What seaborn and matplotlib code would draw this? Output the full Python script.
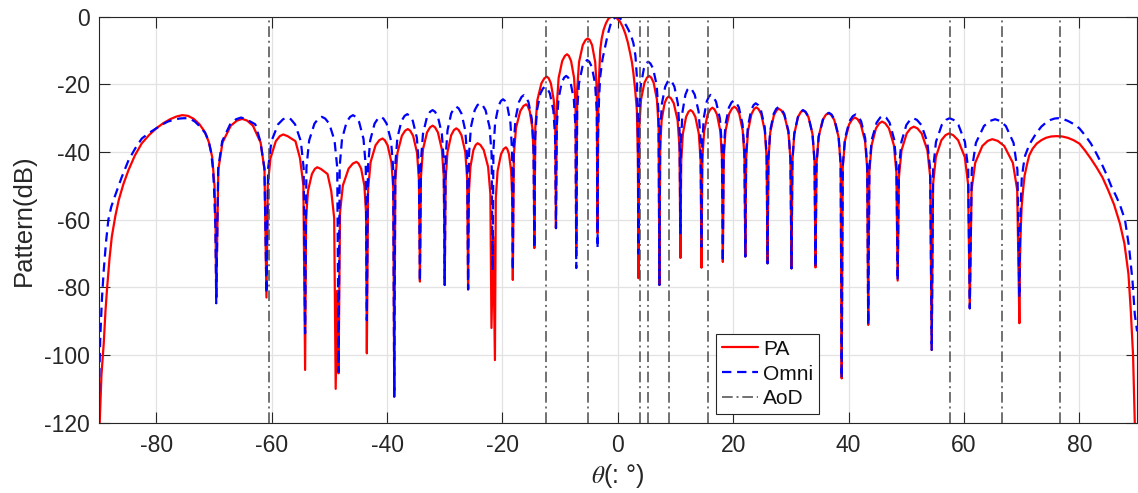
import matplotlib
matplotlib.use("Agg")
import matplotlib.pyplot as plt
import pandas as pd
import seaborn as sns

# ---- data (theta in degrees, pattern in dB) ----
PA_POINTS = [
    (-89.8, -120.0), (-89.5, -106.0), (-89.1, -96.5), (-88.8, -87.0), (-88.5, -79.8), (-88.1, -71.5),
    (-87.7, -65.0), (-87.1, -59.0), (-86.5, -54.2), (-85.7, -49.5), (-84.8, -45.3), (-83.7, -41.0),
    (-82.5, -37.4), (-81.2, -34.9), (-80.0, -33.0), (-78.8, -31.5), (-77.6, -30.3), (-76.5, -29.5),
    (-75.5, -29.1), (-74.5, -29.3), (-73.5, -30.2), (-72.5, -31.8), (-71.6, -34.0), (-70.9, -37.0),
    (-70.3, -41.5), (-69.9, -50.0), (-69.72, -62.0),
    (-69.6, -83.0),
    (-69.24, -45.2), (-68.52, -37.2), (-67.08, -32.2), (-66.0, -30.7), (-65.1, -30.2), (-64.26, -30.7),
    (-63.25, -32.2), (-61.91, -37.2), (-61.24, -45.2),
    (-60.9, -83.0),
    (-60.67, -49.8), (-60.2, -41.8), (-59.28, -36.8), (-58.58, -35.3), (-58.0, -34.8), (-57.24, -35.3),
    (-55.87, -36.8), (-55.09, -41.8), (-54.5, -49.8),
    (-54.2, -104.4),
    (-54.03, -59.5), (-53.7, -51.5), (-53.02, -46.5), (-52.52, -45.0), (-52.1, -44.5), (-51.46, -45.0),
    (-50.31, -46.5), (-49.67, -51.5), (-49.16, -59.5),
    (-48.9, -110.0), (-48.65, -81.0), (-48.4, -105.4),
    (-48.15, -57.9), (-47.66, -49.9), (-46.66, -44.9), (-45.92, -43.4), (-45.3, -42.9), (-44.94, -43.4),
    (-44.49, -44.9), (-43.93, -49.9), (-43.64, -57.9),
    (-43.5, -99.5),
    (-43.28, -51.0), (-42.85, -43.0), (-41.99, -38.0), (-41.34, -36.5), (-40.8, -36.0), (-40.39, -36.5),
    (-39.9, -38.0), (-39.24, -43.0), (-38.91, -51.0),
    (-38.75, -112.3),
    (-38.56, -48.2), (-38.19, -40.2), (-37.43, -35.2), (-36.87, -33.7), (-36.4, -33.2), (-35.98, -33.7),
    (-35.48, -35.2), (-34.8, -40.2), (-34.47, -48.2),
    (-34.3, -78.3),
    (-34.12, -47.2), (-33.77, -39.2), (-33.07, -34.2), (-32.54, -32.7), (-32.1, -32.2), (-31.68, -32.7),
    (-31.18, -34.2), (-30.5, -39.2), (-30.17, -47.2),
    (-30.0, -79.3),
    (-29.84, -48.0), (-29.52, -40.0), (-28.88, -35.0), (-28.4, -33.5), (-28.0, -33.0), (-27.59, -33.5),
    (-27.1, -35.0), (-26.44, -40.0), (-26.11, -48.0),
    (-25.95, -80.6),
    (-25.82, -52.4), (-25.55, -44.4), (-25.03, -39.4), (-24.63, -37.9), (-24.3, -37.4), (-23.82, -37.9),
    (-23.24, -39.4), (-22.48, -44.4), (-22.09, -52.4),
    (-21.9, -92.0), (-21.6, -65.0), (-21.3, -101.5),
    (-21.15, -53.6), (-20.84, -45.6), (-20.24, -40.6), (-19.78, -39.1), (-19.4, -38.6), (-19.16, -39.1),
    (-18.87, -40.6), (-18.49, -45.6), (-18.3, -53.6),
    (-18.2, -77.8),
    (-18.02, -40.9), (-17.65, -32.9), (-16.91, -27.9), (-16.36, -26.4), (-15.9, -25.9), (-15.61, -26.4),
    (-15.27, -27.9), (-14.81, -32.9), (-14.58, -40.9),
    (-14.47, -68.4),
    (-14.3, -32.7), (-13.95, -24.7), (-13.25, -19.7), (-12.73, -18.2), (-12.3, -17.7), (-11.98, -18.2),
    (-11.6, -19.7), (-11.1, -24.7), (-10.85, -32.7),
    (-10.72, -62.5),
    (-10.57, -26.1), (-10.26, -18.1), (-9.64, -13.1), (-9.18, -11.6), (-8.8, -11.1), (-8.48, -11.6),
    (-8.1, -13.1), (-7.58, -18.1), (-7.33, -26.1),
    (-7.2, -68.4),
    (-7.04, -21.4), (-6.72, -13.4), (-6.08, -8.4), (-5.6, -6.9), (-5.2, -6.4), (-4.86, -6.9),
    (-4.46, -8.4), (-3.92, -13.4), (-3.65, -21.4),
    (-3.51, -64.0),
    (-3.42, -30.0), (-3.3, -20.0), (-3.05, -9.8), (-2.8, -6.5), (-2.47, -3.9), (-2.05, -1.9), (-1.6, -0.5),
    (-1.15, -0.05), (-0.74, 0.0), (-0.2, -0.4), (0.4, -1.5), (0.85, -3.0), (1.28, -4.9), (1.72, -7.5),
    (2.14, -10.8), (2.45, -13.5), (2.7, -16.7), (3.0, -21.5), (3.3, -27.6), (3.48, -42.0),
    (3.58, -77.3),
    (3.73, -32.5), (4.02, -24.5), (4.62, -19.5), (5.06, -18.0), (5.43, -17.5), (5.79, -18.0),
    (6.21, -19.5), (6.78, -24.5), (7.07, -32.5),
    (7.21, -79.3),
    (7.34, -38.6), (7.59, -30.6), (8.1, -25.6), (8.48, -24.1), (8.8, -23.6), (9.21, -24.1),
    (9.7, -25.6), (10.36, -30.6), (10.69, -38.6),
    (10.85, -71.3),
    (10.99, -42.6), (11.27, -34.6), (11.83, -29.6), (12.25, -28.1), (12.6, -27.6), (12.98, -28.1),
    (13.44, -29.6), (14.04, -34.6), (14.35, -42.6),
    (14.5, -74.2),
    (14.65, -41.9), (14.96, -33.9), (15.56, -28.9), (16.02, -27.4), (16.4, -26.9), (16.76, -27.4),
    (17.19, -28.9), (17.77, -33.9), (18.06, -41.9),
    (18.2, -72.5),
    (18.36, -41.6), (18.68, -33.6), (19.32, -28.6), (19.8, -27.1), (20.2, -26.6), (20.58, -27.1),
    (21.04, -28.6), (21.64, -33.6), (21.95, -41.6),
    (22.1, -70.9),
    (22.25, -41.8), (22.56, -33.8), (23.16, -28.8), (23.62, -27.3), (24.0, -26.8), (24.39, -27.3),
    (24.86, -28.8), (25.48, -33.8), (25.79, -41.8),
    (25.95, -72.9),
    (26.11, -42.2), (26.42, -34.2), (27.04, -29.2), (27.51, -27.7), (27.9, -27.2), (28.34, -27.7),
    (28.87, -29.2), (29.57, -34.2), (29.92, -42.2),
    (30.1, -74.4),
    (30.26, -42.7), (30.58, -34.7), (31.22, -29.7), (31.7, -28.2), (32.1, -27.7), (32.53, -28.2),
    (33.05, -29.7), (33.74, -34.7), (34.09, -42.7),
    (34.26, -74.1),
    (34.44, -43.5), (34.8, -35.5), (35.51, -30.5), (36.05, -29.0), (36.5, -28.5), (36.96, -29.0),
    (37.51, -30.5), (38.25, -35.5), (38.62, -43.5),
    (38.8, -106.9),
    (38.98, -44.8), (39.35, -36.8), (40.09, -31.8), (40.64, -30.3), (41.1, -29.8), (41.56, -30.3),
    (42.11, -31.8), (42.85, -36.8), (43.22, -44.8),
    (43.4, -91.1),
    (43.59, -46.0), (43.98, -38.0), (44.74, -33.0), (45.32, -31.5), (45.8, -31.0), (46.34, -31.5),
    (46.99, -33.0), (47.85, -38.0), (48.28, -46.0),
    (48.5, -78.0),
    (48.72, -47.5), (49.17, -39.5), (50.07, -34.5), (50.74, -33.0), (51.3, -32.5), (51.92, -33.0),
    (52.66, -34.5), (53.66, -39.5), (54.15, -47.5),
    (54.4, -98.5),
    (54.64, -49.5), (55.12, -41.5), (56.08, -36.5), (56.8, -35.0), (57.4, -34.5), (58.12, -35.0),
    (58.98, -36.5), (60.14, -41.5), (60.71, -49.5),
    (61.0, -86.2),
    (61.31, -51.2), (61.94, -43.2), (63.18, -38.2), (64.12, -36.7), (64.9, -36.2), (65.84, -36.7),
    (66.97, -38.2), (68.47, -43.2), (69.22, -51.2),
    (69.6, -90.6),
    (69.7, -72.0), (69.85, -62.0), (70.0, -56.0), (70.25, -51.0), (70.5, -47.0), (70.9, -43.8),
    (71.3, -41.0), (71.9, -39.0), (72.6, -37.5), (73.4, -36.5), (74.2, -35.8), (75.1, -35.4),
    (76.0, -35.3), (77.0, -35.4), (78.0, -35.8), (79.0, -36.5), (80.0, -37.5), (81.0, -39.6),
    (82.0, -42.0), (83.0, -44.6), (84.0, -47.5), (85.0, -51.3), (86.0, -55.5), (87.0, -61.0),
    (87.8, -67.0), (88.5, -76.0), (88.9, -86.7), (89.3, -100.0), (89.6, -120.0),
]

OMNI_POINTS = [
    (-90.0, -120.0), (-89.85, -105.0), (-89.7, -94.6), (-89.4, -83.0), (-89.1, -74.9), (-88.7, -66.5),
    (-88.3, -60.0), (-87.8, -56.2), (-87.2, -53.2), (-86.0, -47.5), (-84.8, -42.4), (-83.6, -38.8),
    (-82.5, -36.0), (-81.2, -34.3), (-80.0, -33.0), (-79.0, -31.9), (-78.0, -31.0), (-77.0, -30.5),
    (-76.0, -30.1), (-75.2, -30.0), (-74.5, -30.0), (-73.9, -30.4), (-73.3, -31.0), (-72.4, -32.5),
    (-71.5, -34.4), (-70.9, -36.8), (-70.5, -40.0), (-70.2, -44.5), (-70.0, -50.0), (-69.75, -62.0),
    (-69.6, -84.7),
    (-69.26, -44.8), (-68.57, -36.8), (-67.19, -31.8), (-66.16, -30.3), (-65.3, -29.8), (-64.42, -30.3),
    (-62.84, -31.8), (-61.96, -36.8), (-61.25, -44.8),
    (-60.9, -81.8),
    (-60.61, -44.8), (-60.04, -36.8), (-58.88, -31.8), (-58.02, -30.3), (-57.3, -29.8), (-56.68, -30.3),
    (-55.94, -31.8), (-54.94, -36.8), (-54.45, -44.8),
    (-54.2, -93.6),
    (-53.97, -44.6), (-53.5, -36.6), (-52.58, -31.6), (-51.88, -30.1), (-51.3, -29.6), (-50.72, -30.1),
    (-50.02, -31.6), (-49.1, -36.6), (-48.63, -44.6),
    (-48.4, -105.0),
    (-48.2, -44.1), (-47.8, -36.1), (-47.0, -31.1), (-46.4, -29.6), (-45.9, -29.1), (-45.42, -29.6),
    (-44.84, -31.1), (-44.08, -36.1), (-43.69, -44.1),
    (-43.5, -89.7),
    (-43.31, -44.6), (-42.92, -36.6), (-42.16, -31.6), (-41.58, -30.1), (-41.1, -29.6), (-40.63, -30.1),
    (-40.07, -31.6), (-39.31, -36.6), (-38.94, -44.6),
    (-38.75, -112.3),
    (-38.57, -43.8), (-38.21, -35.8), (-37.49, -30.8), (-36.95, -29.3), (-36.5, -28.8), (-36.06, -29.3),
    (-35.53, -30.8), (-34.83, -35.8), (-34.48, -43.8),
    (-34.3, -78.3),
    (-34.12, -42.6), (-33.77, -34.6), (-33.07, -29.6), (-32.54, -28.1), (-32.1, -27.6), (-31.68, -28.1),
    (-31.18, -29.6), (-30.5, -34.6), (-30.17, -42.6),
    (-30.0, -79.3),
    (-29.84, -41.6), (-29.52, -33.6), (-28.88, -28.6), (-28.4, -27.1), (-28.0, -26.6), (-27.59, -27.1),
    (-27.1, -28.6), (-26.44, -33.6), (-26.11, -41.6),
    (-25.95, -80.6),
    (-25.79, -40.6), (-25.46, -32.6), (-24.8, -27.6), (-24.31, -26.1), (-23.9, -25.6), (-23.46, -26.1),
    (-22.93, -27.6), (-22.23, -32.6), (-21.88, -40.6),
    (-21.7, -75.0),
    (-21.56, -39.4), (-21.27, -31.4), (-20.69, -26.4), (-20.26, -24.9), (-19.9, -24.4), (-19.56, -24.9),
    (-19.15, -26.4), (-18.61, -31.4), (-18.34, -39.4),
    (-18.2, -75.0),
    (-18.05, -38.2), (-17.74, -30.2), (-17.14, -25.2), (-16.68, -23.7), (-16.3, -23.2), (-15.93, -23.7),
    (-15.49, -25.2), (-14.91, -30.2), (-14.62, -38.2),
    (-14.47, -68.4),
    (-14.32, -35.7), (-14.02, -27.7), (-13.42, -22.7), (-12.97, -21.2), (-12.6, -20.7), (-12.22, -21.2),
    (-11.77, -22.7), (-11.17, -27.7), (-10.87, -35.7),
    (-10.72, -62.5),
    (-10.58, -32.5), (-10.3, -24.5), (-9.73, -19.5), (-9.3, -18.0), (-8.95, -17.5), (-8.6, -18.0),
    (-8.18, -19.5), (-7.62, -24.5), (-7.34, -32.5),
    (-7.2, -74.3),
    (-7.05, -27.8), (-6.74, -19.8), (-6.14, -14.8), (-5.68, -13.3), (-5.3, -12.8), (-4.94, -13.3),
    (-4.51, -14.8), (-3.94, -19.8), (-3.65, -27.8),
    (-3.51, -68.4),
    (-3.42, -35.0), (-3.25, -24.0), (-3.05, -17.7), (-2.65, -12.5), (-2.2, -8.9), (-1.75, -5.3),
    (-1.3, -2.5), (-0.75, -0.6), (-0.17, 0.0), (0.4, -0.5), (1.0, -1.5), (1.45, -2.6), (1.85, -3.9),
    (2.3, -5.6), (2.7, -7.8), (3.05, -11.5), (3.3, -17.7), (3.48, -35.0),
    (3.58, -70.0),
    (3.71, -28.3), (3.98, -20.3), (4.52, -15.3), (4.92, -13.8), (5.25, -13.3), (5.64, -13.8),
    (6.11, -15.3), (6.74, -20.3), (7.05, -28.3),
    (7.21, -79.3),
    (7.35, -33.7), (7.64, -25.7), (8.21, -20.7), (8.64, -19.2), (9.0, -18.7), (9.37, -19.2),
    (9.81, -20.7), (10.41, -25.7), (10.7, -33.7),
    (10.85, -64.0),
    (10.97, -36.0), (11.22, -28.0), (11.72, -23.0), (12.09, -21.5), (12.4, -21.0), (12.82, -21.5),
    (13.32, -23.0), (14.0, -28.0), (14.33, -36.0),
    (14.5, -68.0),
    (14.63, -38.1), (14.88, -30.1), (15.4, -25.1), (15.78, -23.6), (16.1, -23.1), (16.52, -23.6),
    (17.02, -25.1), (17.7, -30.1), (18.03, -38.1),
    (18.2, -72.5),
    (18.35, -39.8), (18.66, -31.8), (19.26, -26.8), (19.72, -25.3), (20.1, -24.8), (20.5, -25.3),
    (20.98, -26.8), (21.62, -31.8), (21.94, -39.8),
    (22.1, -70.9),
    (22.24, -40.6), (22.53, -32.6), (23.11, -27.6), (23.54, -26.1), (23.9, -25.6), (24.31, -26.1),
    (24.8, -27.6), (25.46, -32.6), (25.79, -40.6),
    (25.95, -72.9),
    (26.1, -41.7), (26.41, -33.7), (27.01, -28.7), (27.47, -27.2), (27.85, -26.7), (28.3, -27.2),
    (28.84, -28.7), (29.56, -33.7), (29.92, -41.7),
    (30.1, -74.4),
    (30.26, -42.6), (30.58, -34.6), (31.22, -29.6), (31.7, -28.1), (32.1, -27.6), (32.53, -28.1),
    (33.05, -29.6), (33.74, -34.6), (34.09, -42.6),
    (34.26, -74.1),
    (34.45, -43.4), (34.82, -35.4), (35.57, -30.4), (36.13, -28.9), (36.6, -28.4), (37.04, -28.9),
    (37.57, -30.4), (38.27, -35.4), (38.62, -43.4),
    (38.8, -106.9),
    (38.99, -43.9), (39.38, -35.9), (40.14, -30.9), (40.72, -29.4), (41.2, -28.9), (41.64, -29.4),
    (42.17, -30.9), (42.87, -35.9), (43.22, -43.9),
    (43.4, -91.1),
    (43.61, -44.3), (44.02, -36.3), (44.86, -31.3), (45.48, -29.8), (46.0, -29.3), (46.5, -29.8),
    (47.1, -31.3), (47.9, -36.3), (48.3, -44.3),
    (48.5, -78.0),
    (48.72, -45.0), (49.15, -37.0), (50.01, -32.0), (50.66, -30.5), (51.2, -30.0), (51.84, -30.5),
    (52.61, -32.0), (53.63, -37.0), (54.14, -45.0),
    (54.4, -98.5),
    (54.65, -45.0), (55.14, -37.0), (56.14, -32.0), (56.88, -30.5), (57.5, -30.0), (58.2, -30.5),
    (59.04, -32.0), (60.16, -37.0), (60.72, -45.0),
    (61.0, -86.2),
    (61.35, -45.3), (62.06, -37.3), (63.46, -32.3), (64.52, -30.8), (65.4, -30.3), (66.24, -30.8),
    (67.25, -32.3), (68.59, -37.3), (69.26, -45.3),
    (69.6, -83.0),
    (69.7, -66.0), (69.85, -55.0), (70.0, -48.0), (70.3, -44.0), (70.6, -41.0), (71.1, -38.8),
    (71.6, -37.0), (72.5, -34.5), (73.4, -32.5), (74.2, -31.3), (75.0, -30.5), (75.7, -30.1),
    (76.3, -30.0), (77.1, -30.2), (78.0, -30.8), (79.0, -31.7), (80.0, -33.0), (81.0, -35.1),
    (82.0, -37.5), (83.0, -40.6), (84.0, -44.0), (84.8, -47.0), (85.5, -50.0), (86.3, -52.8),
    (87.0, -55.5), (87.9, -60.0), (88.6, -68.0), (89.2, -78.0), (89.6, -88.0), (90.0, -93.0),
]

AOD_ANGLES = [-60.5, -12.4, -5.2, 3.9, 5.3, 8.9, 15.7, 57.6, 66.5, 76.7]
X_TICKS = [-80, -60, -40, -20, 0, 20, 40, 60, 80]
Y_TICKS = [-120, -100, -80, -60, -40, -20, 0]
SERIES_LABELS = ["PA", "Omni", "AoD"]
X_LABEL = r"$\theta$(: °)"
Y_LABEL = "Pattern(dB)"

# ---- style ----
sns.set_theme(style="white")
plt.rcParams["font.family"] = ["Liberation Sans", "DejaVu Sans"]
plt.rcParams["mathtext.fontset"] = "stix"
plt.rcParams["axes.unicode_minus"] = False

AX_COLOR = "#262626"

fig = plt.figure(figsize=(11.38, 4.93), dpi=100)
ax = fig.add_axes([0.0866, 0.1426, 0.9126, 0.8235])

pa_df = pd.DataFrame(PA_POINTS, columns=["theta", "db"])
omni_df = pd.DataFrame(OMNI_POINTS, columns=["theta", "db"])

sns.lineplot(data=pa_df, x="theta", y="db", ax=ax, color="#ff0000", linewidth=1.6,
             sort=False, estimator=None, label=SERIES_LABELS[0], legend=False)
sns.lineplot(data=omni_df, x="theta", y="db", ax=ax, color="#0000ff", linewidth=1.6,
             sort=False, estimator=None, label=SERIES_LABELS[1], legend=False)
ax.lines[-1].set_linestyle((0, (4.2, 2.6)))

for i, a in enumerate(AOD_ANGLES):
    ax.axvline(a, color="#4a4a4a", linewidth=1.1, linestyle=(0, (7, 2.5, 1.3, 2.5)),
               label=SERIES_LABELS[2] if i == 0 else None, zorder=3)

ax.set_xlim(-90, 90)
ax.set_ylim(-120, 0)
ax.set_xticks(X_TICKS)
ax.set_yticks(Y_TICKS)
ax.set_xticklabels([str(t) for t in X_TICKS])
ax.set_yticklabels([str(t) for t in Y_TICKS])

ax.grid(True, color="#e2e2e2", linewidth=0.9)
ax.set_axisbelow(True)
for sp in ax.spines.values():
    sp.set_color(AX_COLOR)
    sp.set_linewidth(0.8)
    sp.set_visible(True)

ax.tick_params(axis="both", which="major", direction="in", length=8, width=0.8,
               colors=AX_COLOR, labelsize=16.5, top=True, right=True,
               bottom=True, left=True)
ax.tick_params(axis="x", pad=8)
ax.tick_params(axis="y", pad=6)

ax.set_xlabel(X_LABEL, fontsize=18, color=AX_COLOR, labelpad=4)
ax.set_ylabel(Y_LABEL, fontsize=18.5, color=AX_COLOR, labelpad=6)

handles, labels = ax.get_legend_handles_labels()
leg = ax.legend(handles, labels, loc="lower right", bbox_to_anchor=(0.694, 0.021),
                frameon=True, fancybox=False, framealpha=1, edgecolor=AX_COLOR,
                fontsize=15, handlelength=1.75, handletextpad=0.25,
                borderpad=0.28, labelspacing=0.28, borderaxespad=0)
leg.get_frame().set_linewidth(0.8)
for t in leg.get_texts():
    t.set_color("#111111")

fig.savefig("out.png", dpi=100)
